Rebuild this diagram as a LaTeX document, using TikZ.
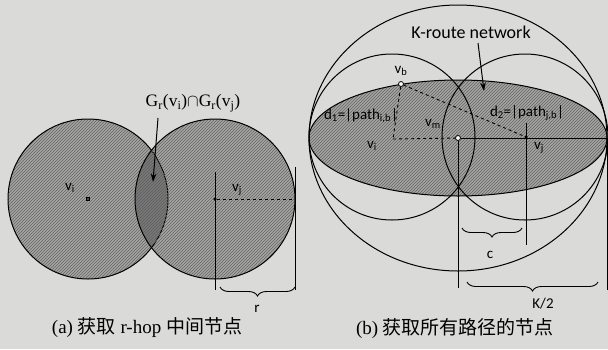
\documentclass[tikz,border=0pt]{standalone}
\usepackage{fontspec}
\setmainfont{Liberation Serif}
\setsansfont{Carlito}
\newfontfamily\cjk{Noto Sans CJK SC}
\usepackage{tikz}
\usetikzlibrary{arrows.meta,positioning,patterns,decorations.pathreplacing}
\definecolor{scan}{RGB}{218,218,216}

\begin{document}
\begin{tikzpicture}[
  x=1pt, y=-1pt,
  font=\sffamily\fontsize{15}{16}\selectfont,
  disc/.style={draw, line width=1pt, preaction={fill=black, fill opacity=0.24},
               pattern=north east lines, pattern color=black!60},
  ring/.style={draw, line width=1pt},
  sq/.style={draw, fill=black!70, minimum size=3pt, inner sep=0pt},
  dot/.style={circle, fill=black, minimum size=3.5pt, inner sep=0pt},
  odot/.style={circle, draw, fill=white, minimum size=5pt, inner sep=0pt, line width=0.8pt},
  lbl/.style={inner sep=1pt},
  meas/.style={line width=0.9pt},
  brc/.style={decorate, decoration={brace, mirror, amplitude=9pt}, line width=0.9pt},
  fl/.style={-{Stealth[length=3mm, width=2mm]}, line width=1pt},
  captxt/.style={font=\rmfamily\fontsize{19}{21}\selectfont},
]
\fill[scan] (0,0) rectangle (608,349);
\useasboundingbox (0,0) rectangle (608,349);

% (a) r-hop
\draw[disc] (88,199) circle[radius=80];
\draw[disc] (215,199) circle[radius=80];
\node[sq] (ci) at (88,199) {};
\node[dot] (cj) at (215,199) {};
\node[lbl] (li) at (70,188) {v\textsubscript{i}};
\node[lbl] (lj) at (237,190) {v\textsubscript{j}};
\coordinate (ej) at (295,199);
\draw[meas, dashed] (cj) -- (ej);
\coordinate (t1) at (215,172); \coordinate (b1) at (215,290);
\coordinate (t2) at (295,167); \coordinate (b2) at (295,290);
\foreach \a/\b in {t1/b1,t2/b2} \draw[meas] (\a) -- (\b);
\coordinate (r1) at (220,287); \coordinate (r2) at (295,287);
\draw[brc] (r1) -- (r2);
\node[lbl] (lr) at (257,309) {r};
\node[lbl, font=\rmfamily\fontsize{17.5}{19}\selectfont] (gij) at (193,103)
  {G\textsubscript{r}(v\textsubscript{i})$\cap$G\textsubscript{r}(v\textsubscript{j})};
\coordinate (gt) at (158,118);
\coordinate (lens) at (153,182);
\draw[fl] (gt) -- (lens);
\node[captxt] (capa) at (147,328) {(a) {\cjk 获取} r-hop {\cjk 中间节点}};

% (b) K-route
\draw[ring] (458,138) ellipse[x radius=149, y radius=133];
\draw[disc] (458,138) ellipse[x radius=149, y radius=58];
\draw[ring] (392,137) circle[radius=83];
\draw[ring] (525,137) circle[radius=83];
\coordinate (vi) at (393,139);
\node[odot] (vb) at (401,84) {};
\node[odot] (vm) at (458,138) {};
\node[dot] (vj) at (526,137) {};
\coordinate (ee) at (607,138);
\draw[meas, dashed] (vb) -- (vi);
\draw[meas, dashed] (vi) -- (vm);
\draw[meas, dashed] (vb) -- (vj);
\draw[meas] (vm) -- (ee);
\coordinate (m1) at (458,288); \coordinate (j1) at (526,123);
\coordinate (j2) at (526,245); \coordinate (e2) at (607,290);
\foreach \a/\b in {vm/m1,j1/j2,ee/e2} \draw[meas] (\a) -- (\b);
\node[lbl] (lb) at (401,71) {v\textsubscript{b}};
\node[lbl] (lm) at (433,124) {v\textsubscript{m}};
\node[lbl] (li2) at (372,146) {v\textsubscript{i}};
\node[lbl] (lj2) at (539,148) {v\textsubscript{j}};
\node[lbl] (d1) at (361,116) {d\textsubscript{1}=|path\textsubscript{i,b}|};
\node[lbl] (d2) at (527,113) {d\textsubscript{2}=|path\textsubscript{j,b}|};
\coordinate (c1) at (462,228); \coordinate (c2) at (522,228);
\draw[brc] (c1) -- (c2);
\node[lbl] (lc) at (490,255) {c};
\coordinate (k1) at (467,282); \coordinate (k2) at (598,282);
\draw[brc] (k1) -- (k2);
\node[lbl] (lk) at (543,304) {K/2};
\node[lbl, font=\sffamily\fontsize{18}{20}\selectfont] (kr) at (471,32) {K-route network};
\coordinate (kt) at (478,43);
\coordinate (net) at (484,91);
\draw[fl] (kt) -- (net);
\node[captxt] (capb) at (455,328) {(b) {\cjk 获取所有路径的节点}};
\end{tikzpicture}
\end{document}
